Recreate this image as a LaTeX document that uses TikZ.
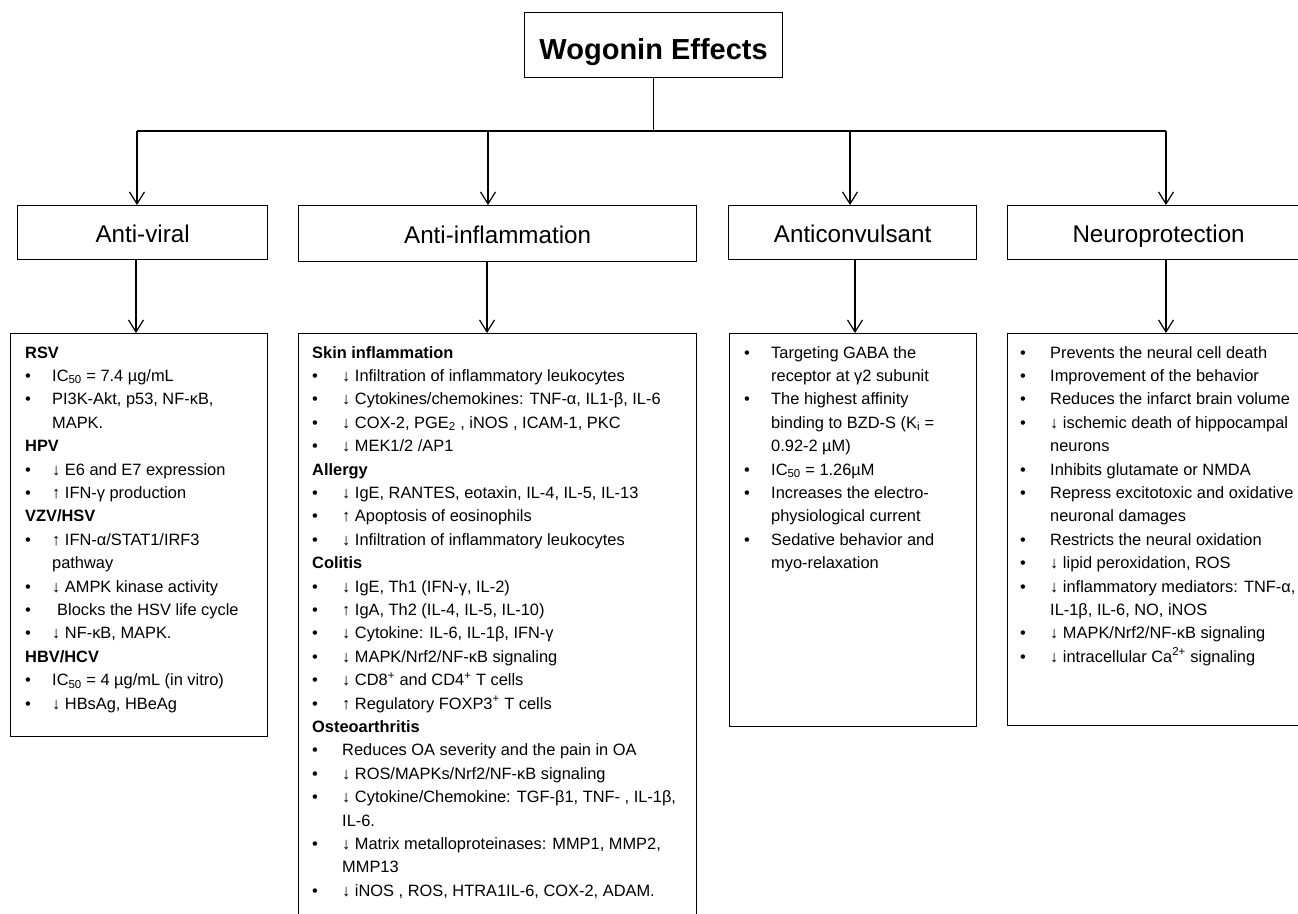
\documentclass[tikz,border=0pt]{standalone}
\usepackage{fontspec}
\setmainfont{Liberation Sans}
\usetikzlibrary{arrows.meta}
\newlength\txo
\newcommand\txtfont{\fontsize{16.4}{23.4}\selectfont\lineskiplimit=-100pt\relax}
\newcommand\hd[1]{\hbox{\bfseries #1}}
\newcommand\bl[1]{\hbox{\hbox to \txo{\textbullet\hss}#1}}
\newcommand\ct[1]{\hbox{\hskip\txo #1}}
\begin{document}
\begin{tikzpicture}[x=1pt,y=-1pt,
  box/.style={draw, line width=1.2pt, inner sep=0pt, anchor=north west},
  cat/.style={box, minimum height=54pt, text height=20.6pt, text depth=0pt, font=\fontsize{24.2}{29}\selectfont},
  txt/.style={anchor=base west, inner sep=0pt},
  arr/.style={-{Straight Barb[length=12pt,width=15pt]}, line width=1.2pt},
  conn/.style={line width=1.2pt}]
\useasboundingbox (0,0) rectangle (1298,913);
\clip (0,0) rectangle (1298,913);
% title
\node[box, minimum width=258pt, minimum height=65pt, text height=28pt, text depth=0pt, font=\fontsize{29}{34}\selectfont\bfseries] (title) at (524,12) {Wogonin Effects};
% categories
\node[cat, minimum width=250pt] (av) at (17,205) {Anti-viral};
\node[cat, minimum width=398pt, minimum height=56pt] (ai) at (298,205) {Anti-inflammation};
\node[cat, minimum width=248pt] (ac) at (728,205) {Anticonvulsant};
\node[cat, minimum width=302pt] (np) at (1007,205) {Neuroprotection};
% content boxes
\node[box, minimum width=257pt, minimum height=403pt] (avb) at (10,333) {};
\node[box, minimum width=398pt, minimum height=620pt] (aib) at (298,333) {};
\node[box, minimum width=247pt, minimum height=393pt] (acb) at (729,333) {};
\node[box, minimum width=330pt, minimum height=392pt] (npb) at (1007,333) {};
% connectors
\coordinate (b1) at (137,131);
\coordinate (b2) at (488,131);
\coordinate (b3) at (850,131);
\coordinate (b4) at (1166,131);
\draw[conn] (title.south) -- (title.south |- b1);
\draw[conn] (b1) -- (b4);
\draw[arr] (b1) -- (b1 |- av.north);
\draw[arr] (b2) -- (b2 |- ai.north);
\draw[arr] (b3) -- (b3 |- ac.north);
\draw[arr] (b4) -- (b4 |- np.north);
\coordinate (e1) at (136,333);
\coordinate (e2) at (487,333);
\coordinate (e3) at (855,333);
\coordinate (e4) at (1166,333);
\draw[arr] (e1 |- av.south) -- (e1);
\draw[arr] (e2 |- ai.south) -- (e2);
\draw[arr] (e3 |- ac.south) -- (e3);
\draw[arr] (e4 |- np.south) -- (e4);
% texts
\node[txt] (avt) at (25,358) {\vtop{\txtfont\setlength\txo{27pt}%
\hd{RSV}
\bl{IC\textsubscript{50} = 7.4 µg/mL}
\bl{PI3K-Akt, p53, NF-κB,}
\ct{MAPK.}
\hd{HPV}
\bl{↓ E6 and E7 expression}
\bl{↑ IFN-γ production}
\hd{VZV/HSV}
\bl{↑ IFN-α/STAT1/IRF3}
\ct{pathway}
\bl{↓ AMPK kinase activity}
\bl{\hspace{5pt}Blocks the HSV life cycle}
\bl{↓ NF-κB, MAPK.}
\hd{HBV/HCV}
\bl{IC\textsubscript{50} = 4 µg/mL (in vitro)}
\bl{↓ HBsAg, HBeAg}}};
\node[txt] (ait) at (312,358) {\vtop{\txtfont\setlength\txo{30pt}%
\hd{Skin inflammation}
\bl{↓ Infiltration of inflammatory leukocytes}
\bl{↓ Cytokines/chemokines: TNF-α, IL1-β, IL-6}
\bl{↓ COX-2, PGE\textsubscript{2} , iNOS , ICAM-1, PKC}
\bl{↓ MEK1/2 /AP1}
\hd{Allergy}
\bl{↓ IgE, RANTES, eotaxin, IL-4, IL-5, IL-13}
\bl{↑ Apoptosis of eosinophils}
\bl{↓ Infiltration of inflammatory leukocytes}
\hd{Colitis}
\bl{↓ IgE, Th1 (IFN-γ, IL-2)}
\bl{↑ IgA, Th2 (IL-4, IL-5, IL-10)}
\bl{↓ Cytokine: IL-6, IL-1β, IFN-γ}
\bl{↓ MAPK/Nrf2/NF-κB signaling}
\bl{↓ CD8\textsuperscript{+} and CD4\textsuperscript{+} T cells}
\bl{↑ Regulatory FOXP3\textsuperscript{+} T cells}
\hd{Osteoarthritis}
\bl{Reduces OA severity and the pain in OA}
\bl{↓ ROS/MAPKs/Nrf2/NF-κB signaling}
\bl{↓ Cytokine/Chemokine: TGF-β1, TNF- , IL-1β,}
\ct{IL-6.}
\bl{↓ Matrix metalloproteinases: MMP1, MMP2,}
\ct{MMP13}
\bl{↓ iNOS , ROS, HTRA1IL-6, COX-2, ADAM.}}};
\node[txt] (act) at (744,358) {\vtop{\txtfont\setlength\txo{27pt}%
\bl{Targeting GABA the}
\ct{receptor at γ2 subunit}
\bl{The highest affinity}
\ct{binding to BZD-S (K\textsubscript{i} =}
\ct{0.92-2 µM)}
\bl{IC\textsubscript{50} = 1.26µM}
\bl{Increases the electro-}
\ct{physiological current}
\bl{Sedative behavior and}
\ct{myo-relaxation}}};
\node[txt] (npt) at (1020,358) {\vtop{\txtfont\setlength\txo{30pt}%
\bl{Prevents the neural cell death}
\bl{Improvement of the behavior}
\bl{Reduces the infarct brain volume}
\bl{↓ ischemic death of hippocampal}
\ct{neurons}
\bl{Inhibits glutamate or NMDA}
\bl{Repress excitotoxic and oxidative}
\ct{neuronal damages}
\bl{Restricts the neural oxidation}
\bl{↓ lipid peroxidation, ROS}
\bl{↓ inflammatory mediators: TNF-α,}
\ct{IL-1β, IL-6, NO, iNOS}
\bl{↓ MAPK/Nrf2/NF-κB signaling}
\bl{↓ intracellular Ca\textsuperscript{2+} signaling}}};
\end{tikzpicture}
\end{document}
